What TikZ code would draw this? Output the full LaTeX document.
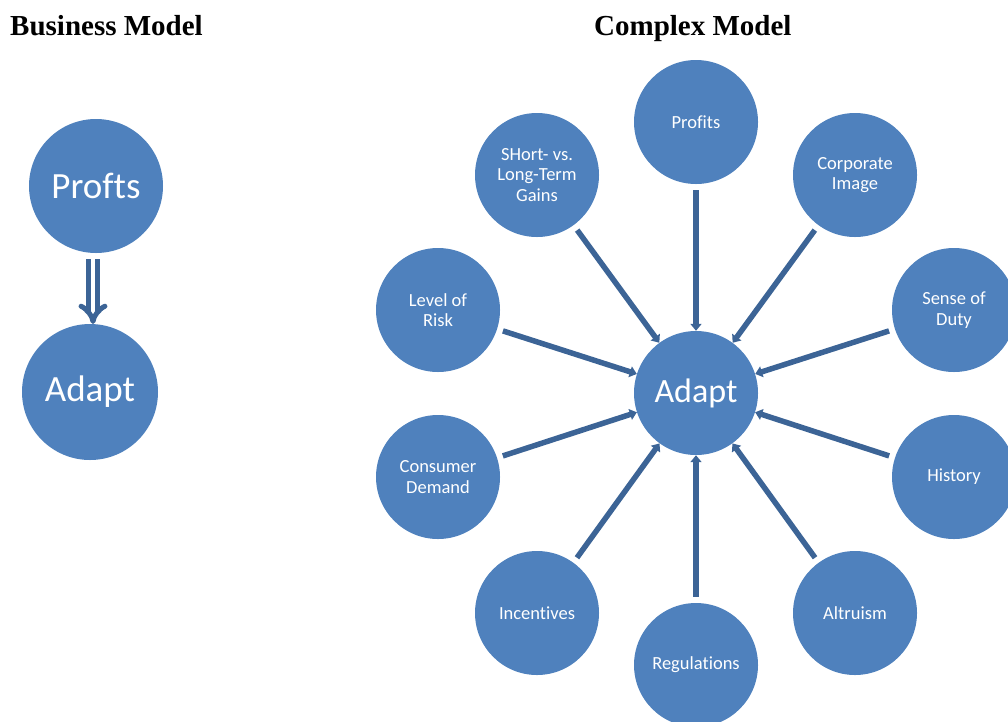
\documentclass[tikz,border=0pt]{standalone}
\usepackage{fontspec}
\setmainfont{Carlito}[Ligatures=NoCommon]
\newfontfamily\titlefont{Liberation Serif}
\usetikzlibrary{arrows.meta}
\definecolor{bubble}{RGB}{79,129,189}
\definecolor{link}{RGB}{60,100,150}
\begin{document}
\begin{tikzpicture}[x=1pt,y=-1pt,
  bubble/.style={circle,fill=bubble,text=white,inner sep=0pt,minimum size=124pt,align=center,font=\fontsize{18.5}{20.5}\selectfont},
  bigbubble/.style={bubble,font=\fontsize{37}{42}\selectfont},
  heading/.style={anchor=base west,inner sep=0pt,font=\titlefont\bfseries\fontsize{29}{33}\selectfont},
  spoke/.style={draw=link,line width=5.5pt,-{Triangle[length=7pt,width=11pt]},shorten <=6pt}]
\useasboundingbox (0,0) rectangle (1008,721);

% headings
\node[heading] (t1) at (10,35) {Business Model};
\node[heading] (t2) at (594,35) {Complex Model};

% simple model
\node[bigbubble,minimum size=134pt] (bp) at (96,186) {Profts};
\node[bigbubble,minimum size=136pt] (ba) at (90,392) {Adapt};
\draw[draw=link,line width=5pt,double=white,double distance=4pt,-{Implies[length=8pt,width=16pt]},shorten <=6pt,shorten >=2pt]
  (93,253) coordinate (bs) -- (93,326) coordinate (be);

% complex model
\begin{scope}
\clip (0,0) rectangle (1008,721);
\node[bigbubble,minimum size=124pt,font=\fontsize{34}{38}\selectfont] (ad) at (696,393) {Adapt};
\node[bubble] (pr) at (696,122) {Profits};
\node[bubble] (sh) at (537,175) {SHort- vs.\\Long-Term\\Gains};
\node[bubble] (co) at (855,175) {Corporate\\Image};
\node[bubble] (lr) at (438,310) {Level of\\Risk};
\node[bubble] (sd) at (954,310) {Sense of\\Duty};
\node[bubble] (cd) at (438,477) {Consumer\\Demand};
\node[bubble] (hi) at (954,477) {History};
\node[bubble] (in) at (537,613) {Incentives};
\node[bubble] (al) at (855,613) {Altruism};
\node[bubble] (re) at (696,665) {Regulations};
\end{scope}

\foreach \n in {pr,sh,co,lr,sd,cd,hi,in,al,re}
  \draw[spoke] (\n) -- (ad);
\end{tikzpicture}
\end{document}
